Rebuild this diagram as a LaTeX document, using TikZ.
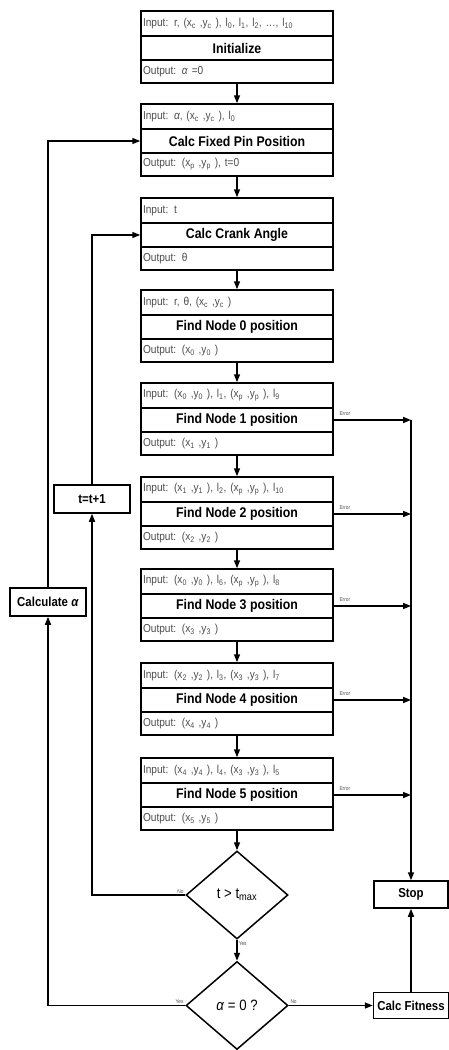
\documentclass[tikz,border=0pt]{standalone}
\usepackage{fontspec}
\setmainfont{Liberation Sans}
\newfontfamily\nar[FakeStretch=0.88]{Liberation Sans}
\usetikzlibrary{arrows.meta,shapes.geometric}
\newcommand\stagebox[5]{%
  \node[inrow]   (#1i) at (237,#2+12.5) {#3};
  \node[titlerow](#1t) at (237,#2+37)   {#4};
  \node[outrow]  (#1o) at (237,#2+60.5) {#5};
}
\newcommand\sbs[1]{\textsubscript{#1}}
\begin{document}
\begin{tikzpicture}[x=1pt,y=-1pt,
  rowbase/.style={draw, line width=1.5pt, text width=188pt, inner xsep=2pt, inner ysep=0pt,
     align=left, font=\nar\fontsize{11.5}{13}\selectfont, text=black!70},
  inrow/.style={rowbase, minimum height=25pt},
  outrow/.style={rowbase, minimum height=23pt},
  titlerow/.style={draw, line width=1.5pt, minimum width=192pt, minimum height=24pt, inner sep=0pt,
     font=\nar\bfseries\fontsize{14}{16}\selectfont},
  sidebox/.style={draw, line width=1.5pt, inner sep=0pt, font=\nar\bfseries\fontsize{13}{15}\selectfont},
  decision/.style={draw, diamond, line width=1.5pt, inner sep=0pt, minimum width=102pt, minimum height=88pt,
     font=\nar\fontsize{15}{17}\selectfont},
  arr/.style={line width=1.5pt, -{Triangle[length=8pt,width=6pt]}},
  tiny/.style={font=\nar\fontsize{5.5}{6}\selectfont, text=black!70, inner sep=1pt},
]
\useasboundingbox (0,0) rectangle (449,1050);

\stagebox{b1}{11}{Input: r, (x\sbs{c} ,y\sbs{c} ), l\sbs{0}, l\sbs{1}, l\sbs{2}, …, l\sbs{10}}{Initialize}{Output: \textit{α} =0}
\stagebox{b2}{104}{Input: \textit{α}, (x\sbs{c} ,y\sbs{c} ), l\sbs{0}}{Calc Fixed Pin Position}{Output: (x\sbs{p} ,y\sbs{p} ), t=0}
\stagebox{b3}{198}{Input: t}{Calc Crank Angle}{Output: θ}
\stagebox{b4}{290}{Input: r, θ, (x\sbs{c} ,y\sbs{c} )}{Find Node 0 position}{Output: (x\sbs{0} ,y\sbs{0} )}
\stagebox{b5}{383}{Input: (x\sbs{0} ,y\sbs{0} ), l\sbs{1}, (x\sbs{p} ,y\sbs{p} ), l\sbs{9}}{Find Node 1 position}{Output: (x\sbs{1} ,y\sbs{1} )}
\stagebox{b6}{477}{Input: (x\sbs{1} ,y\sbs{1} ), l\sbs{2}, (x\sbs{p} ,y\sbs{p} ), l\sbs{10}}{Find Node 2 position}{Output: (x\sbs{2} ,y\sbs{2} )}
\stagebox{b7}{569}{Input: (x\sbs{0} ,y\sbs{0} ), l\sbs{6}, (x\sbs{p} ,y\sbs{p} ), l\sbs{8}}{Find Node 3 position}{Output: (x\sbs{3} ,y\sbs{3} )}
\stagebox{b8}{663}{Input: (x\sbs{2} ,y\sbs{2} ), l\sbs{3}, (x\sbs{3} ,y\sbs{3} ), l\sbs{7}}{Find Node 4 position}{Output: (x\sbs{4} ,y\sbs{4} )}
\stagebox{b9}{758}{Input: (x\sbs{4} ,y\sbs{4} ), l\sbs{4}, (x\sbs{3} ,y\sbs{3} ), l\sbs{5}}{Find Node 5 position}{Output: (x\sbs{5} ,y\sbs{5} )}

\node[decision] (d1) at (237,895) {t > t\sbs{max}};
\node[decision] (d2) at (237,1005.5) {\textit{α} = 0 ?};

\node[sidebox, minimum width=76pt, minimum height=28pt] (tt) at (92,499) {t=t+1};
\node[sidebox, minimum width=76pt, minimum height=28pt] (ca) at (48,602) {Calculate \textit{α}};
\node[sidebox, minimum width=74pt, minimum height=27pt] (stop) at (411,894.5) {Stop};
\node[sidebox, minimum width=75pt, minimum height=26pt] (cf) at (411,1005.5) {Calc Fitness};

% main chain
\foreach \a/\b in {b1/b2,b2/b3,b3/b4,b4/b5,b5/b6,b6/b7,b7/b8,b8/b9}{
  \draw[arr] (\a o.south) -- (\b i.north);
}
\draw[arr] (b9o.south) -- (d1.north);
\draw[arr] (d1.south) -- node[pos=0, below right, tiny]{Yes} (d2.north);

% t loop
\draw[arr] (d1.west) node[above left, tiny]{No} -| (tt.south);
\draw[arr] (tt.north) |- (b3t.west);

% alpha loop
\draw[arr] (d2.west) node[above left, tiny]{Yes} -| (ca.south);
\draw[arr] (ca.north) |- (b2t.west);

% fitness
\draw[arr] (d2.east) node[above right, tiny]{No} -- (cf.west);
\draw[arr] (cf.north) -- (stop.south);

% error exits
\foreach \k in {b5,b6,b7,b8,b9}{
  \draw[arr] (\k t.east) -- node[pos=0, above right, tiny, xshift=4pt, yshift=3pt]{Error} (\k t.east -| stop.north);
}
\draw[arr] (b5t.east -| stop.north) -- (stop.north);
\end{tikzpicture}
\end{document}
